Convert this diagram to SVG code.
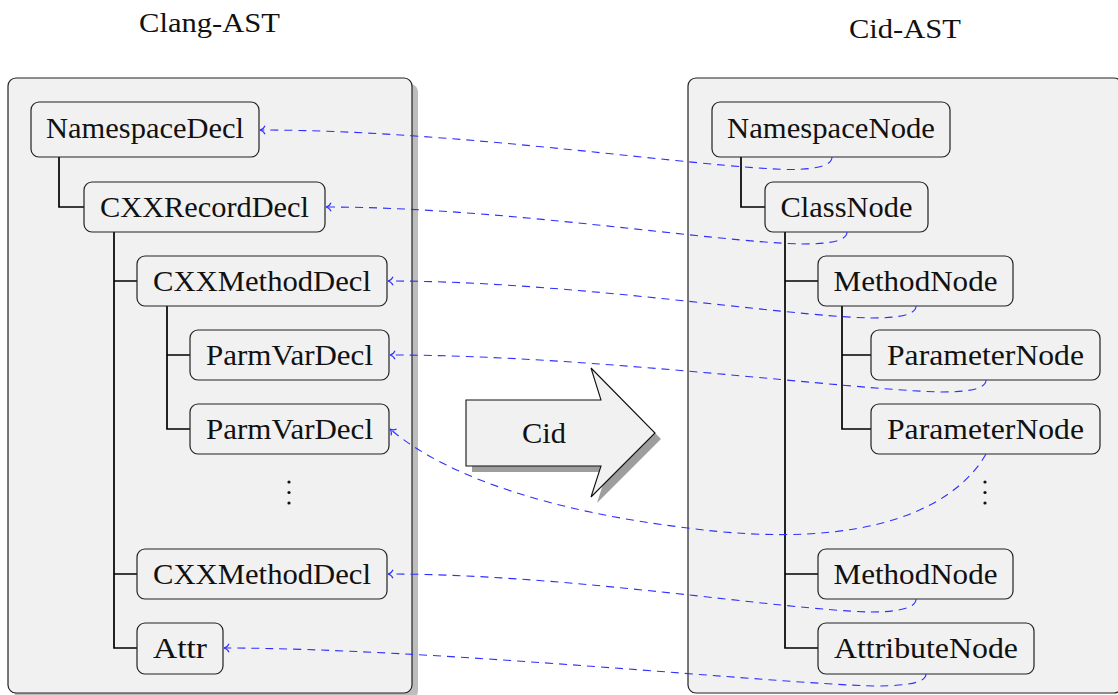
<svg xmlns="http://www.w3.org/2000/svg" width="1118" height="695" viewBox="0 0 1118 695">
<defs>
<style>
.panel{fill:#f1f1f1;stroke:#222;stroke-width:1.2}
.shadow{fill:#bdbdbd}
.node rect{fill:#f1f1f1;stroke:#222;stroke-width:1.2}
.lbl{font-family:"Liberation Serif","Times New Roman",serif;font-size:29px;fill:#111;text-anchor:middle}
.title{font-family:"Liberation Serif","Times New Roman",serif;font-size:28px;fill:#111;text-anchor:middle}
.tree{fill:none;stroke:#000;stroke-width:1.7}
.conn path{fill:none;stroke:#2f2fff;stroke-width:1.1;stroke-dasharray:8 6;marker-end:url(#tip)}
.dot{fill:#111}
</style>
<marker id="tip" markerUnits="userSpaceOnUse" markerWidth="12" markerHeight="12" viewBox="-7 -6 9 12" refX="0" refY="0" orient="auto">
<path d="M-5,-4.2 C-4,-1.6 -1.6,-0.4 0,0 C-1.6,0.4 -4,1.6 -5,4.2" fill="none" stroke="#2f2fff" stroke-width="1.1"/>
</marker>
</defs>

<text class="title" x="209.5" y="32" textLength="141" lengthAdjust="spacingAndGlyphs">Clang-AST</text>
<text class="title" x="905" y="38" textLength="112" lengthAdjust="spacingAndGlyphs">Cid-AST</text>

<g id="panel-left">
<rect class="shadow" x="14" y="84" width="404" height="615" rx="8"/>
<rect class="panel" x="8" y="78" width="404" height="615" rx="8"/>
</g>
<g id="panel-right">
<rect class="panel" x="688" y="78" width="434" height="615" rx="8"/>
</g>

<g id="cid-arrow">
<polygon points="472,406 607,406 597,374 661,439 597,503 607,472 472,472" fill="#9e9e9e"/>
<polygon points="466,400 601,400 591,368 655,433 591,497 601,466 466,466" fill="#f1f1f1" stroke="#111" stroke-width="1.1"/>
<text class="lbl" x="544" y="443" textLength="44" lengthAdjust="spacingAndGlyphs">Cid</text>
</g>

<g id="tree-lines">
<path class="tree" d="M59,157 V207 H84"/>
<path class="tree" d="M114,232 V648 H137 M114,281 H137 M114,574 H137"/>
<path class="tree" d="M167,306 V429 H190 M167,355 H190"/>
<path class="tree" d="M741,157 V207 H765"/>
<path class="tree" d="M785,232 V648 H818 M785,281 H818 M785,574 H818"/>
<path class="tree" d="M842,305 V429 H871 M842,355 H871"/>
</g>

<g id="n-namespacedecl" class="node"><rect x="31" y="102" width="228" height="55" rx="8"/><text class="lbl" x="145" y="138" textLength="198" lengthAdjust="spacingAndGlyphs">NamespaceDecl</text></g>
<g id="n-cxxrecorddecl" class="node"><rect x="84" y="182" width="241" height="50" rx="8"/><text class="lbl" x="204.5" y="217" textLength="209" lengthAdjust="spacingAndGlyphs">CXXRecordDecl</text></g>
<g id="n-cxxmethoddecl1" class="node"><rect x="137" y="256" width="250" height="50" rx="8"/><text class="lbl" x="262" y="291" textLength="218" lengthAdjust="spacingAndGlyphs">CXXMethodDecl</text></g>
<g id="n-parmvardecl1" class="node"><rect x="190" y="330" width="199" height="50" rx="8"/><text class="lbl" x="289.5" y="365" textLength="167" lengthAdjust="spacingAndGlyphs">ParmVarDecl</text></g>
<g id="n-parmvardecl2" class="node"><rect x="190" y="404" width="199" height="50" rx="8"/><text class="lbl" x="289.5" y="439" textLength="167" lengthAdjust="spacingAndGlyphs">ParmVarDecl</text></g>
<g id="n-left-dots"><circle class="dot" cx="289" cy="482" r="1.6"/><circle class="dot" cx="289" cy="492.5" r="1.6"/><circle class="dot" cx="289" cy="503" r="1.6"/></g>
<g id="n-cxxmethoddecl2" class="node"><rect x="137" y="549" width="250" height="50" rx="8"/><text class="lbl" x="262" y="584" textLength="218" lengthAdjust="spacingAndGlyphs">CXXMethodDecl</text></g>
<g id="n-attr" class="node"><rect x="137" y="623" width="86" height="51" rx="8"/><text class="lbl" x="180" y="658" textLength="54" lengthAdjust="spacingAndGlyphs">Attr</text></g>

<g id="n-namespacenode" class="node"><rect x="712" y="102" width="238" height="55" rx="8"/><text class="lbl" x="831" y="138" textLength="208" lengthAdjust="spacingAndGlyphs">NamespaceNode</text></g>
<g id="n-classnode" class="node"><rect x="765" y="182" width="163" height="50" rx="8"/><text class="lbl" x="846.5" y="217" textLength="132" lengthAdjust="spacingAndGlyphs">ClassNode</text></g>
<g id="n-methodnode1" class="node"><rect x="818" y="256" width="195" height="50" rx="8"/><text class="lbl" x="915.5" y="291" textLength="164" lengthAdjust="spacingAndGlyphs">MethodNode</text></g>
<g id="n-parameternode1" class="node"><rect x="871" y="330" width="229" height="50" rx="8"/><text class="lbl" x="985.5" y="365" textLength="197" lengthAdjust="spacingAndGlyphs">ParameterNode</text></g>
<g id="n-parameternode2" class="node"><rect x="871" y="404" width="229" height="50" rx="8"/><text class="lbl" x="985.5" y="439" textLength="197" lengthAdjust="spacingAndGlyphs">ParameterNode</text></g>
<g id="n-right-dots"><circle class="dot" cx="985" cy="482" r="1.6"/><circle class="dot" cx="985" cy="492.5" r="1.6"/><circle class="dot" cx="985" cy="503" r="1.6"/></g>
<g id="n-methodnode2" class="node"><rect x="818" y="549" width="195" height="50" rx="8"/><text class="lbl" x="915.5" y="584" textLength="164" lengthAdjust="spacingAndGlyphs">MethodNode</text></g>
<g id="n-attributenode" class="node"><rect x="818" y="623" width="216" height="51" rx="8"/><text class="lbl" x="926" y="658" textLength="184" lengthAdjust="spacingAndGlyphs">AttributeNode</text></g>

<g id="connectors" class="conn">
<path d="M832,157 C832,165 818,169.5 790,169.5 C700,168 460,130 260,130"/>
<path d="M847,232 C847,240 833,244 802,244 C712,242 500,207 326,207"/>
<path d="M916,306 C916,314 902,318 871,318 C781,316 570,281 388,281"/>
<path d="M986,380 C986,388 972,392 941,392 C851,390 590,355 390,355"/>
<path d="M986,454 C960,500 880,555 680,527 C560,512 450,480 390,429"/>
<path d="M916,599 C916,607 902,612 871,612 C781,610 570,574 388,574"/>
<path d="M926,674 C926,682 910,686 875,686 C780,684 430,648 224,648"/>
</g>
</svg>
